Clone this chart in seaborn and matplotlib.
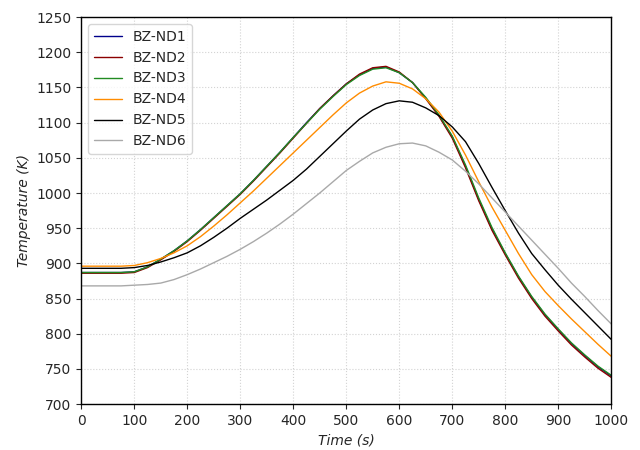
import numpy as np
import pandas as pd
import matplotlib
matplotlib.use("Agg")
import matplotlib.pyplot as plt
import seaborn as sns

# time axis (s)
time = list(range(0, 1001, 25))

nd1 = [887, 887, 887, 887, 888, 895, 906, 918, 932, 948, 965, 982, 999,
       1018, 1038, 1058, 1079, 1100, 1120, 1138, 1155, 1168, 1177, 1179,
       1171, 1157, 1135, 1110, 1080, 1038, 991, 949, 914, 881, 852, 827,
       806, 786, 769, 753, 740]
nd2 = [886, 886, 886, 886, 887, 894, 905, 917, 931, 947, 964, 981, 998,
       1017, 1037, 1057, 1078, 1099, 1120, 1138, 1155, 1169, 1178, 1180,
       1172, 1157, 1134, 1109, 1078, 1036, 989, 947, 912, 879, 850, 825,
       804, 784, 767, 751, 738]
nd3 = [887, 887, 887, 887, 888, 895, 906, 918, 932, 948, 965, 982, 999,
       1018, 1038, 1058, 1079, 1099, 1119, 1137, 1154, 1167, 1176, 1178,
       1171, 1157, 1136, 1111, 1081, 1040, 993, 951, 915, 882, 853, 828,
       807, 787, 770, 754, 741]
nd4 = [896, 896, 896, 896, 897, 901, 907, 915, 925, 938, 953, 969, 986,
       1003, 1021, 1039, 1057, 1075, 1093, 1111, 1128, 1142, 1152, 1158,
       1156, 1148, 1134, 1115, 1088, 1054, 1016, 980, 947, 914, 884, 860,
       840, 821, 803, 785, 768]
nd5 = [893, 893, 893, 893, 894, 897, 902, 908, 915, 925, 937, 950, 964,
       977, 990, 1004, 1018, 1034, 1052, 1070, 1088, 1105, 1118, 1127,
       1131, 1129, 1121, 1110, 1094, 1073, 1042, 1008, 975, 943, 914, 891,
       869, 849, 830, 811, 792]
nd6 = [868, 868, 868, 868, 869, 870, 872, 877, 884, 892, 901, 910, 920,
       931, 943, 956, 970, 985, 1000, 1016, 1032, 1045, 1057, 1065,
       1070, 1071, 1067, 1058, 1047, 1031, 1013, 993, 973, 953, 933, 913,
       893, 872, 853, 833, 814]

series = ["BZ-ND1", "BZ-ND2", "BZ-ND3", "BZ-ND4", "BZ-ND5", "BZ-ND6"]
values = [nd1, nd2, nd3, nd4, nd5, nd6]
colors = ["darkblue", "darkred", "forestgreen", "darkorange", "black", "darkgray"]

df = pd.concat([pd.DataFrame({"time": time, "temp": v, "case": s})
                for s, v in zip(series, values)], ignore_index=True)

sns.set_style("white")
plt.rcParams["font.family"] = ["DejaVu Sans"]

fig, ax = plt.subplots(figsize=(6.4, 4.5), dpi=100)
sns.lineplot(data=df, x="time", y="temp", hue="case", hue_order=series,
             palette=colors, linewidth=1, ax=ax)

ax.set_xlim(0, 1000)
ax.set_ylim(700, 1250)
ax.set_xticks(np.arange(0, 1001, 100))
ax.set_yticks(np.arange(700, 1251, 50))
ax.tick_params(axis="both", labelsize=10, direction="out", length=3.5,
               width=0.8, bottom=True, left=True)
ax.grid(True, linestyle=":", color="lightgray", linewidth=0.8)
for sp in ax.spines.values():
    sp.set_color("black")
    sp.set_linewidth(1.0)

ax.set_xlabel("Time (s)", fontstyle="italic", fontsize=10)
ax.set_ylabel("Temperature (K)", fontstyle="italic", fontsize=10)
ax.legend(loc="upper left", fontsize=10, title=None, frameon=True)

fig.subplots_adjust(left=0.127, right=0.955, top=0.962, bottom=0.102)
fig.savefig("out.png", dpi=100)
